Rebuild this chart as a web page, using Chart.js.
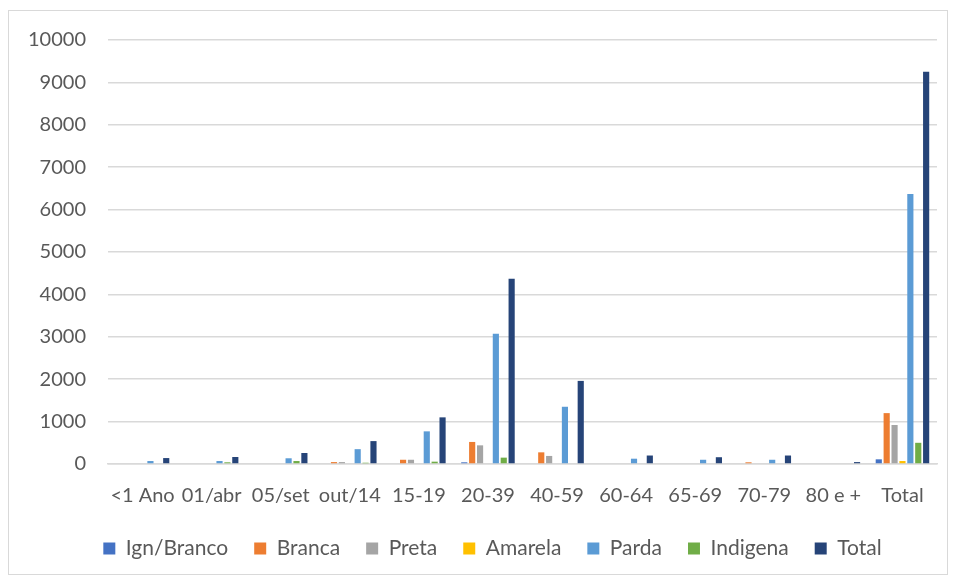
<!DOCTYPE html>
<html>
<head>
<meta charset="utf-8">
<script src="https://cdn.jsdelivr.net/npm/chart.js@4/dist/chart.umd.min.js"></script>
<style>
  html, body { margin: 0; padding: 0; background: #ffffff; }
  #wrap { position: relative; width: 955px; height: 581px; }
  #frame { position: absolute; left: 8px; top: 10px; width: 940px; height: 565px; border: 1px solid #d9d9d9; box-sizing: border-box; }
  canvas { position: absolute; left: 0; top: 0; }
</style>
</head>
<body>
<div id="wrap">
  <div id="frame"></div>
  <canvas id="c" width="955" height="581"></canvas>
</div>
<script>
// Age groups on the x axis
const faixas = ["<1 Ano", "01/abr", "05/set", "out/14", "15-19", "20-39", "40-59", "60-64", "65-69", "70-79", "80 e +", "Total"];

// Cases per race/colour group
const ignBranco = [0, 0, 0, 0, 0, 40, 0, 0, 0, 0, 0, 110];
const branca    = [0, 0, 0, 45, 100, 520, 275, 0, 0, 40, 0, 1200];
const preta     = [0, 0, 0, 45, 100, 440, 190, 0, 0, 0, 0, 920];
const amarela   = [0, 0, 0, 0, 0, 0, 0, 0, 0, 0, 0, 70];
const parda     = [70, 70, 135, 350, 770, 3070, 1350, 125, 100, 100, 0, 6370];
const indigena  = [0, 40, 70, 30, 55, 150, 0, 0, 0, 0, 0, 500];
const total     = [140, 165, 260, 540, 1100, 4370, 1960, 200, 160, 200, 45, 9250];

const yTicks = [0, 1000, 2000, 3000, 4000, 5000, 6000, 7000, 8000, 9000, 10000];

const fontFamily = "Lato, 'Open Sans', sans-serif";
const textColor = "#595959";

const series = [
  ["Ign/Branco", ignBranco, "#4472C4"],
  ["Branca", branca, "#ED7D31"],
  ["Preta", preta, "#A5A5A5"],
  ["Amarela", amarela, "#FFC000"],
  ["Parda", parda, "#5B9BD5"],
  ["Indigena", indigena, "#70AD47"],
  ["Total", total, "#264478"]
];

// Center the legend row under the plot area rather than the whole canvas
const legendShift = {
  id: "legendShift",
  afterLayout(chart) {
    const lg = chart.legend;
    if (lg) { lg.left += 24; lg.right += 24; }
  }
};

new Chart(document.getElementById("c"), {
  type: "bar",
  data: {
    labels: faixas,
    datasets: series.map(([label, data, color]) => ({
      label, data,
      backgroundColor: color,
      borderWidth: 0,
      categoryPercentage: 0.8,
      barPercentage: 0.78
    }))
  },
  plugins: [legendShift],
  options: {
    responsive: false,
    animation: false,
    layout: { padding: { top: 40, right: 18, bottom: 12, left: 0 } },
    plugins: {
      tooltip: { enabled: false },
      legend: {
        position: "bottom",
        labels: {
          color: textColor,
          font: { family: fontFamily, size: 21 },
          boxWidth: 12,
          boxHeight: 12,
          padding: 26
        }
      }
    },
    scales: {
      x: {
        grid: { display: false, drawTicks: false },
        border: { display: true, color: "#d9d9d9", width: 1.5 },
        ticks: {
          color: textColor,
          font: { family: fontFamily, size: 20 },
          autoSkip: false,
          maxRotation: 0,
          padding: 20
        },
        afterFit: s => { s.height = 48; }
      },
      y: {
        min: 0,
        max: 10000,
        afterBuildTicks: s => { s.ticks = yTicks.map(v => ({ value: v })); },
        grid: { color: "#d9d9d9", lineWidth: 1.5, drawTicks: false },
        border: { display: false },
        ticks: {
          color: textColor,
          font: { family: fontFamily, size: 20 },
          padding: 22,
          callback: v => String(v)
        },
        afterFit: s => { s.width = 108; }
      }
    }
  }
});
</script>
</body>
</html>
